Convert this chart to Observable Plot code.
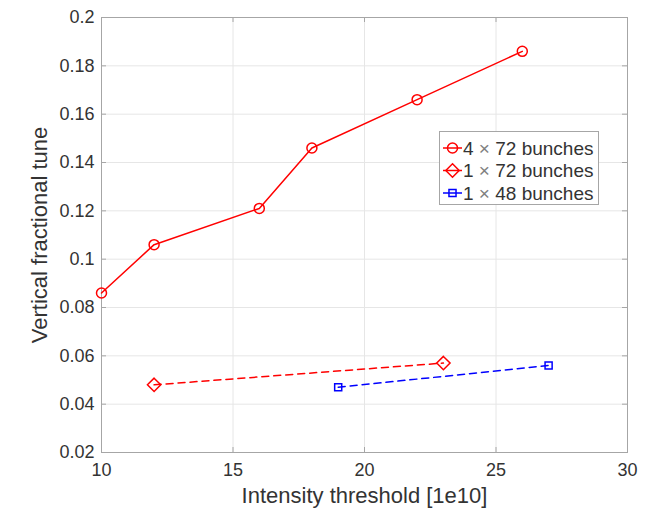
<!DOCTYPE html>
<html>
<head>
<meta charset="utf-8">
<script src="https://cdn.jsdelivr.net/npm/d3@7"></script>
<script src="https://cdn.jsdelivr.net/npm/@observablehq/plot@0.6"></script>
<style>
  html, body { margin: 0; padding: 0; background: #fff; }
  #chart { position: relative; width: 647px; height: 512px; }
</style>
</head>
<body>
<div id="chart"></div>
<script>
// Data
const x4x72 = [10, 12, 16, 18, 22, 26];
const y4x72 = [0.086, 0.106, 0.121, 0.146, 0.166, 0.186];
const x1x72 = [12, 23];
const y1x72 = [0.048, 0.057];
const x1x48 = [19, 27];
const y1x48 = [0.047, 0.056];
const xTicks = [10, 15, 20, 25, 30];
const yTicks = [0.02, 0.04, 0.06, 0.08, 0.1, 0.12, 0.14, 0.16, 0.18, 0.2];
const seriesNames = [["4", "72 bunches"], ["1", "72 bunches"], ["1", "48 bunches"]];
const xLabel = "Intensity threshold [1e10]";
const yLabel = "Vertical fractional tune";

const s1 = x4x72.map((x, i) => ({x, y: y4x72[i]}));
const s2 = x1x72.map((x, i) => ({x, y: y1x72[i]}));
const s3 = x1x48.map((x, i) => ({x, y: y1x48[i]}));

const font = "'Liberation Sans', Arial, Helvetica, sans-serif";
const axisCol = "#333333";
const frameCol = "#a6a6a6";
const gridCol = "#e6e6e6";
const xDom = [10, 30], yDom = [0.02, 0.2];
const tx = (xDom[1] - xDom[0]) * 5 / 526;  // inward tick length in data units
const ty = (yDom[1] - yDom[0]) * 5 / 435;

const chart = Plot.plot({
  width: 647,
  height: 512,
  marginLeft: 101,
  marginRight: 20,
  marginTop: 17,
  marginBottom: 60,
  style: {fontFamily: font, background: "#fff", overflow: "visible"},
  x: {domain: xDom},
  y: {domain: yDom},
  marks: [
    Plot.gridX(xTicks, {stroke: gridCol, strokeOpacity: 1, strokeWidth: 1}),
    Plot.gridY(yTicks, {stroke: gridCol, strokeOpacity: 1, strokeWidth: 1}),
    Plot.ruleX(xTicks, {x: d => d, y1: yDom[0], y2: yDom[0] + ty, stroke: frameCol}),
    Plot.ruleX(xTicks, {x: d => d, y1: yDom[1], y2: yDom[1] - ty, stroke: frameCol}),
    Plot.ruleY(yTicks, {y: d => d, x1: xDom[0], x2: xDom[0] + tx, stroke: frameCol}),
    Plot.ruleY(yTicks, {y: d => d, x1: xDom[1], x2: xDom[1] - tx, stroke: frameCol}),
    Plot.frame({stroke: frameCol, strokeWidth: 1}),
    Plot.axisX({ticks: xTicks, tickFormat: d => String(d), tickSize: 0, tickPadding: 11,
      fontSize: 18, color: axisCol, label: null}),
    Plot.axisY({ticks: yTicks, tickFormat: d => String(d), tickSize: 0, tickPadding: 7,
      fontSize: 18, color: axisCol, label: null}),
    Plot.text([xLabel], {text: d => d, frameAnchor: "bottom", textAnchor: "middle", lineAnchor: "middle",
      dy: 43, fontSize: 22, fill: axisCol}),
    Plot.text([yLabel], {text: d => d, frameAnchor: "left", textAnchor: "middle", lineAnchor: "middle",
      dx: -62, rotate: -90, fontSize: 22, fill: axisCol}),
    Plot.line(s1, {x: "x", y: "y", stroke: "#ff0000", strokeWidth: 1.5}),
    Plot.line(s2, {x: "x", y: "y", stroke: "#ff0000", strokeWidth: 1.5, strokeDasharray: "7,5"}),
    Plot.line(s3, {x: "x", y: "y", stroke: "#0000ff", strokeWidth: 1.5, strokeDasharray: "7,5"}),
    Plot.dot(s1, {x: "x", y: "y", r: 5, stroke: "#ff0000", strokeWidth: 1.5, fill: "none"}),
    Plot.dot(s2, {x: "x", y: "y", r: 6, symbol: "diamond2", stroke: "#ff0000", strokeWidth: 1.5, fill: "none"}),
    Plot.dot(s3, {x: "x", y: "y", r: 4.5, symbol: "square2", stroke: "#0000ff", strokeWidth: 1.5, fill: "none"})
  ]
});

document.getElementById("chart").appendChild(chart);

// Legend (inside the SVG)
const svg = d3.select(chart);
const lg = svg.append("g").attr("font-family", font).attr("text-anchor", "start");
lg.append("rect").attr("x", 439.5).attr("y", 131.5).attr("width", 159).attr("height", 73)
  .attr("fill", "#fff").attr("stroke", frameCol).attr("stroke-width", 1);
const colors = ["#ff0000", "#ff0000", "#0000ff"];
const shapes = [d3.symbolCircle, d3.symbolDiamond2, d3.symbolSquare2];
const sizes = [5, 6, 4.5];
seriesNames.forEach((name, i) => {
  const cy = 148 + i * 22.5;
  lg.append("line").attr("x1", 443).attr("x2", 462).attr("y1", cy).attr("y2", cy)
    .attr("stroke", colors[i]).attr("stroke-width", 1.5);
  const sym = d3.symbol(shapes[i], Math.PI * sizes[i] * sizes[i]);
  lg.append("path").attr("d", sym()).attr("transform", `translate(452.5,${cy})`)
    .attr("fill", "none").attr("stroke", colors[i]).attr("stroke-width", 1.5);
  const t = lg.append("text").attr("x", 463).attr("y", cy).attr("dy", "0.35em")
    .attr("font-size", 19).attr("fill", axisCol);
  t.append("tspan").text(name[0] + " ");
  t.append("tspan").attr("fill", "#808080").text("\u00d7");
  t.append("tspan").text(" " + name[1]);
});
</script>
</body>
</html>
